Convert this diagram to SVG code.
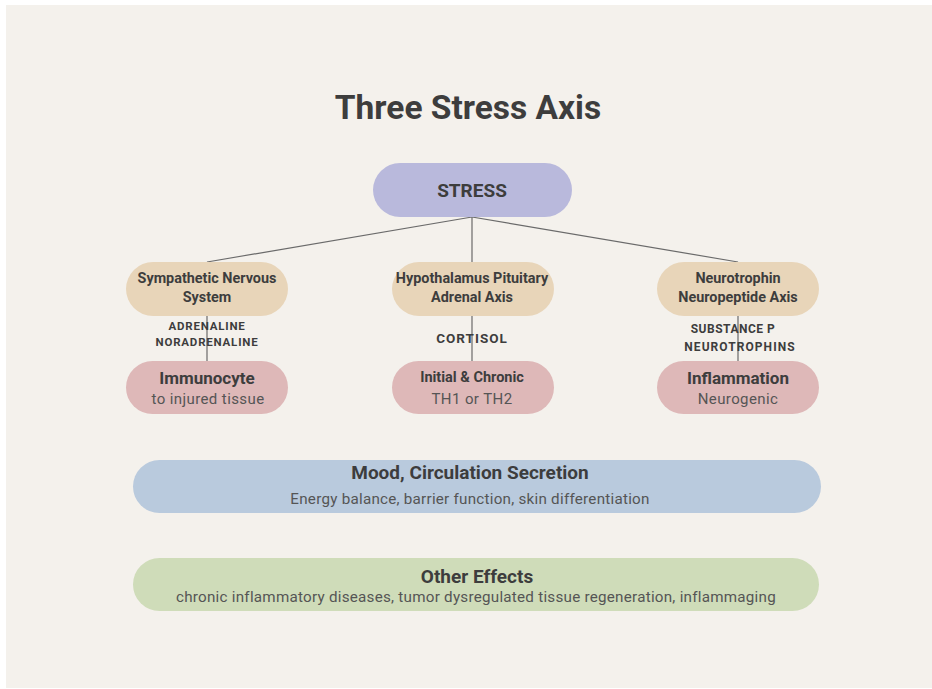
<svg xmlns="http://www.w3.org/2000/svg" width="932" height="689" viewBox="0 0 932 689">
  <style>
    text { font-family: Roboto, "Liberation Sans", sans-serif; fill: #3d3d3d; text-anchor: middle; }
    .title { font-size: 33.5px; font-weight: 700; }
    .head { font-size: 19px; font-weight: 700; }
    .axis { font-size: 14.4px; font-weight: 700; }
    .axis2 { font-size: 14.5px; font-weight: 700; }
    .eff { font-size: 17px; font-weight: 700; }
    .sub { font-size: 15px; fill: #555; letter-spacing: 0.4px; }
    .sig { font-size: 11.5px; font-weight: 700; letter-spacing: 0.8px; }
    .sig3 { font-size: 12px; font-weight: 700; letter-spacing: 0.5px; }
    .sig4 { font-size: 12px; font-weight: 700; letter-spacing: 1.05px; }
    .sig2 { font-size: 13.5px; font-weight: 700; letter-spacing: 1px; }
    .wide { font-size: 19px; font-weight: 700; }
    .note { font-size: 15.2px; fill: #555; letter-spacing: 0.25px; }
    .link { stroke: #6a6a6a; stroke-width: 1.2; fill: none; }
    .stress { fill: #b9b9dc; }
    .axisbox { fill: #e8d5b9; }
    .effbox { fill: #deb8b8; }
    .mood { fill: #b9cadd; }
    .other { fill: #cfdcb9; }
  </style>

  <rect x="0" y="0" width="932" height="689" fill="#ffffff"/>
  <rect x="6" y="5" width="926" height="683" fill="#f4f1ec"/>

  <text class="title" x="468" y="119">Three Stress Axis</text>

  <!-- connectors -->
  <g id="connectors">
    <line class="link" x1="472" y1="217" x2="207" y2="262"/>
    <line class="link" x1="472" y1="217" x2="472" y2="262"/>
    <line class="link" x1="472" y1="217" x2="738" y2="262"/>
    <line class="link" x1="207" y1="316" x2="207" y2="361"/>
    <line class="link" x1="472" y1="316" x2="472" y2="361"/>
    <line class="link" x1="738" y1="316" x2="738" y2="361"/>
  </g>

  <g id="stress">
    <rect class="stress" x="373" y="163" width="199" height="54" rx="27"/>
    <text class="head" x="472" y="197">STRESS</text>
  </g>

  <g id="sympathetic">
    <rect class="axisbox" x="126" y="262" width="162" height="54" rx="27"/>
    <text class="axis" x="207" y="283">Sympathetic Nervous</text>
    <text class="axis" x="207" y="302">System</text>
  </g>
  <g id="hpa">
    <rect class="axisbox" x="392" y="262" width="162" height="54" rx="27"/>
    <text class="axis" x="472" y="283">Hypothalamus Pituitary</text>
    <text class="axis" x="472" y="302">Adrenal Axis</text>
  </g>
  <g id="neurotrophin">
    <rect class="axisbox" x="657" y="262" width="162" height="54" rx="27"/>
    <text class="axis" x="738" y="283">Neurotrophin</text>
    <text class="axis" x="738" y="302">Neuropeptide Axis</text>
  </g>

  <!-- mediator labels -->
  <g id="mediators">
    <text class="sig" x="207" y="330">ADRENALINE</text>
    <text class="sig" x="207" y="346">NORADRENALINE</text>
    <text class="sig2" x="472" y="343">CORTISOL</text>
    <text class="sig3" x="733" y="333">SUBSTANCE P</text>
    <text class="sig4" x="740" y="351">NEUROTROPHINS</text>
  </g>

  <g id="immunocyte">
    <rect class="effbox" x="126" y="361" width="162" height="53" rx="26.5"/>
    <text class="eff" x="207" y="384">Immunocyte</text>
    <text class="sub" x="208" y="404">to injured tissue</text>
  </g>
  <g id="initial">
    <rect class="effbox" x="392" y="361" width="162" height="53" rx="26.5"/>
    <text class="axis2" x="472" y="382">Initial &amp; Chronic</text>
    <text class="sub" x="472" y="404">TH1 or TH2</text>
  </g>
  <g id="inflammation">
    <rect class="effbox" x="657" y="361" width="162" height="53" rx="26.5"/>
    <text class="eff" x="738" y="384">Inflammation</text>
    <text class="sub" x="738" y="404">Neurogenic</text>
  </g>

  <g id="mood">
    <rect class="mood" x="133" y="460" width="688" height="53" rx="26.5"/>
    <text class="wide" x="470" y="479">Mood, Circulation Secretion</text>
    <text class="note" x="470" y="504">Energy balance, barrier function, skin differentiation</text>
  </g>

  <g id="other">
    <rect class="other" x="133" y="558" width="686" height="53" rx="26.5"/>
    <text class="wide" x="477" y="583">Other Effects</text>
    <text class="note" x="476" y="602">chronic inflammatory diseases, tumor dysregulated tissue regeneration, inflammaging</text>
  </g>
</svg>
